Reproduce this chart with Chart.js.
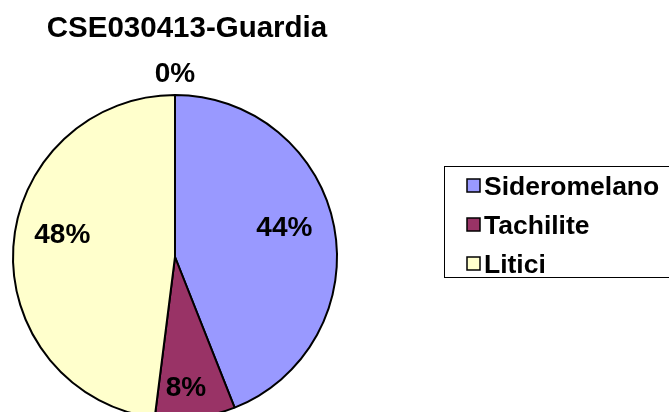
<!DOCTYPE html>
<html>
<head>
<meta charset="utf-8">
<script src="https://cdn.jsdelivr.net/npm/chart.js@4/dist/chart.umd.min.js"></script>
<style>
html,body{margin:0;padding:0;background:#fff;overflow:hidden;width:669px;height:412px;}
canvas{display:block;}
</style>
</head>
<body>
<canvas id="c" width="669" height="440"></canvas>
<script>
const chartTitle = 'CSE030413-Guardia';
const categories = ['Sideromelano', 'Tachilite', 'Litici', ''];
const values = [44, 8, 48, 0];
const colors = ['#9999FF', '#993366', '#FFFFCC', '#FFFFFF'];

const FONT = '"Liberation Sans", Arial, sans-serif';

const drawPlugin = {
  id: 'excelLook',
  afterDatasetsDraw(chart, args, opts) {
    const ctx = chart.ctx;
    const meta = chart.getDatasetMeta(0);
    const data = chart.data.datasets[0].data;
    const total = data.reduce((a, b) => a + b, 0);
    ctx.save();
    ctx.fillStyle = '#000';
    ctx.textAlign = 'center';
    ctx.textBaseline = 'middle';
    ctx.font = 'bold 28px ' + FONT;
    meta.data.forEach((arc, i) => {
      const p = arc.getProps(['x', 'y', 'startAngle', 'endAngle', 'outerRadius'], true);
      const mid = (p.startAngle + p.endAngle) / 2 + opts.angleAdjust[i];
      const r = p.outerRadius * opts.radiusFactor[i];
      const txt = Math.round(data[i] / total * 100) + '%';
      ctx.fillText(txt, p.x + Math.cos(mid) * r, p.y + Math.sin(mid) * r + 1);
    });
    // title
    ctx.textBaseline = 'alphabetic';
    ctx.font = 'bold 29.5px ' + FONT;
    ctx.fillText(chartTitle, 187, 37);
    // legend box
    ctx.strokeStyle = '#000';
    ctx.lineWidth = 1;
    ctx.strokeRect(444.5, 166.5, 260, 111);
    ctx.textAlign = 'left';
    ctx.font = 'bold 26.5px ' + FONT;
    let row = 0;
    chart.data.labels.forEach((lab, i) => {
      if (!lab) return;
      const base = 195 + row * 39;
      ctx.fillStyle = chart.data.datasets[0].backgroundColor[i];
      ctx.fillRect(467, base - 16, 13, 13);
      ctx.lineWidth = 1.5;
      ctx.strokeStyle = '#000';
      ctx.strokeRect(467, base - 16, 13, 13);
      ctx.fillStyle = '#000';
      ctx.fillText(lab, 484, base);
      row++;
    });
    ctx.restore();
  }
};

new Chart(document.getElementById('c'), {
  type: 'pie',
  data: {
    labels: categories,
    datasets: [{
      data: values,
      backgroundColor: colors,
      borderColor: '#000',
      borderWidth: 2,
      hoverOffset: 0
    }]
  },
  options: {
    responsive: false,
    animation: false,
    rotation: 0,
    layout: { padding: { left: 12, top: 94, right: 331, bottom: 20 } },
    plugins: {
      legend: { display: false },
      title: { display: false },
      tooltip: { enabled: false },
      excelLook: {
        radiusFactor: [0.70, 0.805, 0.71, 1.135],
        angleAdjust: [-0.08, 0.042, 0.138, 0]
      }
    },
    events: []
  },
  plugins: [drawPlugin]
});
</script>
</body>
</html>
